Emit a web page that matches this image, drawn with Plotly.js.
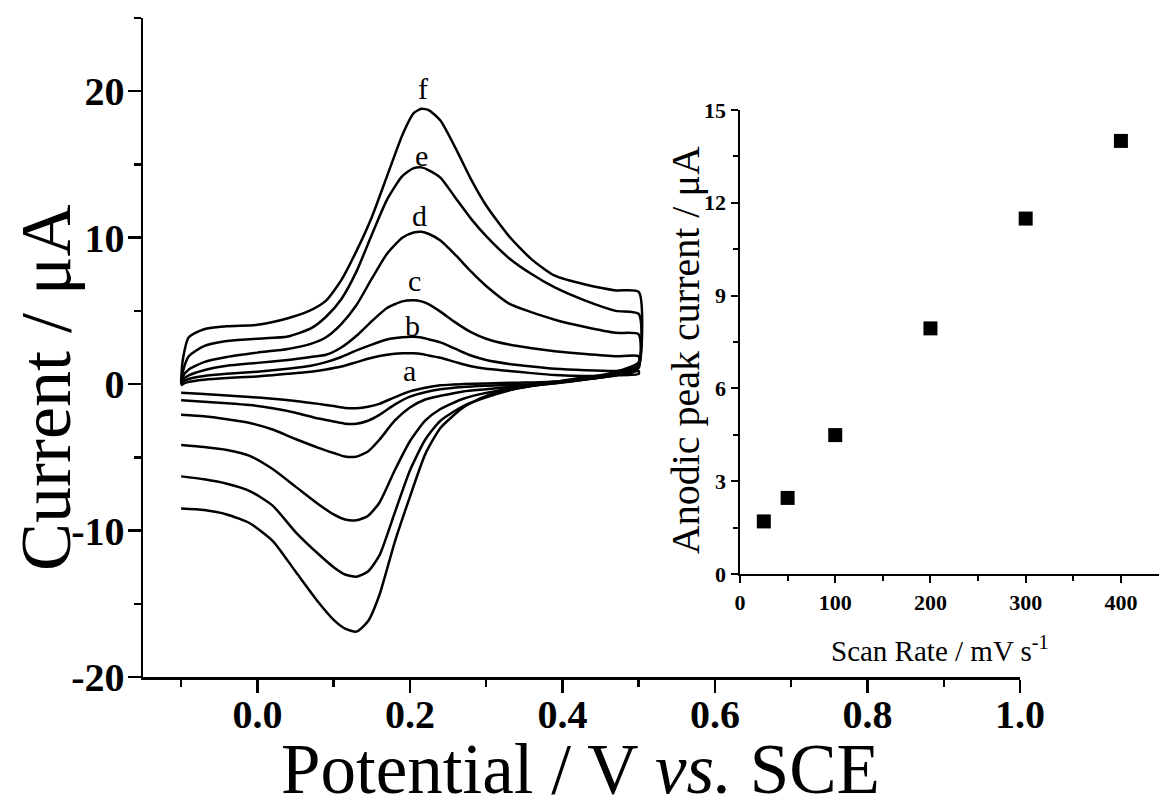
<!DOCTYPE html>
<html>
<head>
<meta charset="utf-8">
<script src="https://cdn.plot.ly/plotly-3.0.1.min.js"></script>
<style>html,body{margin:0;padding:0;background:#fff;}#chart{width:1161px;height:807px;}</style>
</head>
<body>
<div id="chart"></div>
<script>
// Forward (anodic) scan potentials, V vs SCE
const potentialsForward = [-0.1, -0.098, -0.09, -0.07, -0.04, 0.0, 0.04, 0.07, 0.09, 0.11, 0.13, 0.15, 0.17, 0.19, 0.205, 0.215, 0.225, 0.24, 0.26, 0.28, 0.3, 0.33, 0.36, 0.39, 0.43, 0.47, 0.5];
// Reverse (cathodic) scan potentials
const potentialsReverse = [0.5, 0.48, 0.45, 0.42, 0.38, 0.34, 0.3, 0.27, 0.24, 0.22, 0.2, 0.18, 0.16, 0.145, 0.13, 0.115, 0.1, 0.08, 0.05, 0.02, -0.01, -0.04, -0.07, -0.1];

// Currents (µA) on the forward scan
const fwdA = [-0.1, 0.0, 0.15, 0.3, 0.42, 0.52, 0.7, 0.85, 1.0, 1.2, 1.5, 1.8, 2.0, 2.1, 2.1, 2.05, 1.95, 1.8, 1.5, 1.22, 1.05, 0.9, 0.75, 0.62, 0.55, 0.6, 0.7];
const fwdB = [-0.05, 0.15, 0.35, 0.55, 0.7, 0.85, 1.05, 1.25, 1.5, 1.85, 2.3, 2.7, 3.05, 3.2, 3.23, 3.18, 3.05, 2.85, 2.4, 1.95, 1.65, 1.38, 1.2, 1.05, 0.95, 0.9, 1.0];
const fwdC = [0.0, 0.3, 0.6, 0.95, 1.25, 1.45, 1.65, 1.85, 2.0, 2.5, 3.3, 4.3, 5.2, 5.65, 5.73, 5.65, 5.45, 4.95, 4.2, 3.55, 3.1, 2.7, 2.45, 2.25, 2.05, 1.9, 1.9];
const fwdD = [0.05, 0.5, 1.0, 1.5, 1.85, 2.15, 2.4, 2.75, 3.2, 4.1, 5.4, 7.2, 8.9, 10.0, 10.35, 10.4, 10.25, 9.8, 8.8, 7.7, 6.7, 5.5, 4.9, 4.4, 3.9, 3.5, 3.4];
const fwdE = [0.1, 0.8, 1.9, 2.6, 2.95, 3.1, 3.25, 3.8, 4.6, 5.8, 7.7, 10.2, 12.6, 14.2, 14.75, 14.8, 14.6, 14.1, 12.7, 11.3, 10.1, 8.6, 7.5, 6.6, 5.7, 5.0, 4.8];
const fwdF = [0.2, 1.6, 3.2, 3.75, 3.95, 4.05, 4.5, 5.05, 5.7, 7.1, 9.1, 11.4, 14.2, 17.0, 18.5, 18.8, 18.7, 18.0, 16.1, 14.0, 12.2, 10.1, 8.5, 7.4, 6.8, 6.4, 6.3];

// Currents (µA) on the reverse scan
const revA = [0.9, 0.65, 0.45, 0.3, 0.15, 0.1, 0.05, 0.0, -0.08, -0.25, -0.5, -0.9, -1.35, -1.55, -1.65, -1.63, -1.5, -1.35, -1.15, -1.0, -0.88, -0.78, -0.68, -0.59];
const revB = [1.0, 0.7, 0.45, 0.25, 0.05, -0.05, -0.12, -0.2, -0.35, -0.55, -0.85, -1.4, -2.1, -2.5, -2.7, -2.7, -2.55, -2.35, -1.95, -1.65, -1.43, -1.3, -1.2, -1.1];
const revC = [1.1, 0.75, 0.45, 0.25, 0.0, -0.15, -0.35, -0.5, -0.8, -1.05, -1.6, -2.5, -3.8, -4.6, -4.95, -4.95, -4.7, -4.35, -3.75, -3.1, -2.65, -2.4, -2.2, -2.1];
const revD = [1.2, 0.8, 0.5, 0.3, 0.0, -0.25, -0.6, -1.0, -1.7, -2.5, -3.9, -5.9, -8.1, -9.0, -9.3, -9.25, -8.9, -8.2, -7.0, -5.8, -4.9, -4.5, -4.3, -4.16];
const revE = [1.3, 0.9, 0.55, 0.35, 0.05, -0.3, -0.9, -1.5, -2.5, -3.8, -5.9, -8.8, -11.7, -12.8, -13.15, -13.0, -12.5, -11.6, -10.1, -8.3, -7.3, -6.8, -6.5, -6.3];
const revF = [1.5, 1.0, 0.6, 0.4, 0.05, -0.3, -0.8, -1.6, -3.0, -4.8, -7.7, -10.8, -14.4, -16.2, -16.9, -16.7, -16.1, -14.9, -12.8, -10.7, -9.5, -8.9, -8.6, -8.5];

// Curve labels
const curveNames = ['a', 'b', 'c', 'd', 'e', 'f'];
const labelPotential = [0.200, 0.204, 0.206, 0.213, 0.215, 0.217];
const labelCurrent = [0.9, 4.0, 7.1, 11.5, 15.6, 20.2];

// Main axis tick labels
const currentTicks = [-20, -10, 0, 10, 20];
const currentTickText = ['-20', '-10', '0', '10', '20'];

// Inset: anodic peak current vs scan rate
const scanRates = [25, 50, 100, 200, 300, 400];
const peakCurrents = [1.7, 2.46, 4.49, 7.94, 11.49, 14.0];

const fwdAll = [fwdA, fwdB, fwdC, fwdD, fwdE, fwdF];
const revAll = [revA, revB, revC, revD, revE, revF];

const serif = 'Liberation Serif, Times New Roman, serif';
const traces = [];
for (let i = 0; i < curveNames.length; i++) {
  traces.push({
    type: 'scatter', mode: 'lines', name: curveNames[i],
    x: potentialsForward.concat(potentialsReverse),
    y: fwdAll[i].concat(revAll[i]),
    line: {color: '#000', width: 2.5, shape: 'spline', smoothing: 0.6},
    xaxis: 'x', yaxis: 'y', hoverinfo: 'skip'
  });
}
traces.push({
  type: 'scatter', mode: 'markers', x: scanRates, y: peakCurrents,
  marker: {symbol: 'square', size: 14, color: '#000'},
  xaxis: 'x2', yaxis: 'y2', hoverinfo: 'skip'
});

const annotations = curveNames.map((n, i) => ({
  text: n, x: labelPotential[i], y: labelCurrent[i], xref: 'x', yref: 'y',
  showarrow: false, font: {family: serif, size: 30, color: '#000'}
}));
// Axis titles
annotations.push({
  text: 'Potential / V <i>vs.</i> SCE', xref: 'paper', yref: 'paper',
  x: 0.4311, y: -0.14, xanchor: 'center', yanchor: 'middle', showarrow: false,
  font: {family: serif, size: 71, color: '#000'}
});
annotations.push({
  text: 'Current / μA', xref: 'paper', yref: 'paper', textangle: -90,
  x: -0.0955, y: 0.44, xanchor: 'center', yanchor: 'middle', showarrow: false,
  font: {family: serif, size: 72, color: '#000'}
});
annotations.push({
  text: 'Anodic peak current / μA', xref: 'paper', yref: 'paper', textangle: -90,
  x: 0.5335, y: 0.496, xanchor: 'center', yanchor: 'middle', showarrow: false,
  font: {family: serif, size: 40, color: '#000'}
});
annotations.push({
  text: 'Scan Rate / mV s<sup>-1</sup>', xref: 'paper', yref: 'paper',
  x: 0.7844, y: 0.043, xanchor: 'center', yanchor: 'middle', showarrow: false,
  font: {family: serif, size: 29, color: '#000'}
});

const tickFontMain = {family: serif, size: 40, color: '#000', weight: 'bold'};
const tickFontInset = {family: serif, size: 22, color: '#000', weight: 'bold'};

const layout = {
  width: 1161, height: 807,
  margin: {l: 143, r: 2, t: 18, b: 130},
  paper_bgcolor: '#fff', plot_bgcolor: 'rgba(0,0,0,0)',
  showlegend: false,
  font: {family: serif, color: '#000'},
  xaxis: {
    domain: [0, 0.8632], range: [-0.15, 1.0], anchor: 'y',
    showline: true, linecolor: '#000', linewidth: 2.5, showgrid: false, zeroline: false,
    ticks: 'outside', ticklen: 13, tickwidth: 2.5, tickcolor: '#000',
    tick0: 0, dtick: 0.2, tickformat: '.1f', tickfont: tickFontMain, ticklabelstandoff: -13,
    minor: {ticks: 'outside', ticklen: 7, tickwidth: 2.5, tickcolor: '#000', dtick: 0.1, tick0: 0, showgrid: false}
  },
  yaxis: {
    domain: [0, 1], range: [-20, 25], anchor: 'x',
    showline: true, linecolor: '#000', linewidth: 2.5, showgrid: false, zeroline: false,
    ticks: 'outside', ticklen: 13, tickwidth: 2.5, tickcolor: '#000',
    tickvals: currentTicks, ticktext: currentTickText, tickfont: tickFontMain, ticklabelstandoff: -5,
    minor: {ticks: 'outside', ticklen: 7, tickwidth: 2.5, tickcolor: '#000', tickvals: [-15, -5, 5, 15, 25], showgrid: false}
  },
  xaxis2: {
    domain: [0.5876, 1.0], range: [0, 440], anchor: 'y2',
    showline: true, linecolor: '#000', linewidth: 2.5, showgrid: false, zeroline: false,
    ticks: 'outside', ticklen: 7, tickwidth: 2, tickcolor: '#000',
    tick0: 0, dtick: 100, tickfont: tickFontInset,
    minor: {ticks: 'outside', ticklen: 5, tickwidth: 2, tickcolor: '#000', dtick: 50, tick0: 0, showgrid: false}
  },
  yaxis2: {
    domain: [0.1563, 0.8604], range: [0, 15], anchor: 'x2',
    showline: true, linecolor: '#000', linewidth: 2.5, showgrid: false, zeroline: false,
    ticks: 'outside', ticklen: 7, tickwidth: 2, tickcolor: '#000',
    tick0: 0, dtick: 3, tickfont: tickFontInset,
    minor: {ticks: 'outside', ticklen: 5, tickwidth: 2, tickcolor: '#000', dtick: 1.5, tick0: 0, showgrid: false}
  },
  annotations: annotations
};

Plotly.newPlot('chart', traces, layout, {displayModeBar: false, staticPlot: true});
</script>
</body>
</html>
